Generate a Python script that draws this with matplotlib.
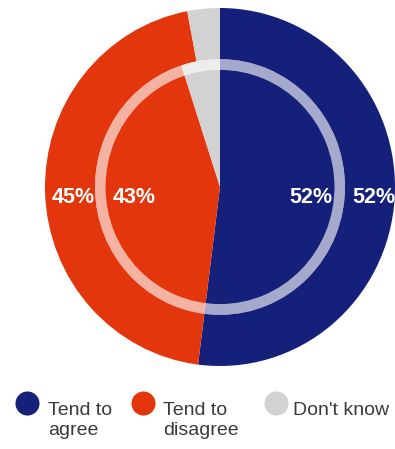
import matplotlib
matplotlib.use("Agg")
import matplotlib.pyplot as plt
from matplotlib.patches import Wedge

categories = ["Tend to\nagree", "Tend to\ndisagree", "Don't know"]
outer_values = [52, 45, 3]
inner_values = [52, 43, 5]
colors = ["#15207a", "#e3360c", "#d2d2d2"]

W, H = 395, 449
fig = plt.figure(figsize=(W / 100, H / 100), dpi=100)
fig.patch.set_facecolor("white")

# pie geometry in pixels
cx, cy, rx, ry = 220, 187, 175, 179
ax = fig.add_axes([(cx - rx) / W, (H - cy - ry) / H, 2 * rx / W, 2 * ry / H])
R_in = 0.714
ax.pie(outer_values, colors=colors, startangle=90, counterclock=False,
       radius=1.0, wedgeprops=dict(width=1.0 - R_in, linewidth=0))
ax.pie(inner_values, colors=colors, startangle=90, counterclock=False,
       radius=R_in, wedgeprops=dict(linewidth=0))
ax.add_patch(Wedge((0, 0), R_in, 0, 360, width=0.06, facecolor="white",
                   alpha=0.62, linewidth=0))
ax.set_aspect("auto")
ax.set_xlim(-1, 1)
ax.set_ylim(-1, 1)
ax.axis("off")

lab_kw = dict(color="white", fontsize=15.5, fontweight="bold", ha="center",
              va="center", family="Liberation Sans")
ly = -0.06
ax.text(0.88, ly, f"{outer_values[0]}%", **lab_kw)
ax.text(0.52, ly, f"{inner_values[0]}%", **lab_kw)
ax.text(-0.84, ly, f"{outer_values[1]}%", **lab_kw)
ax.text(-0.49, ly, f"{inner_values[1]}%", **lab_kw)

# legend overlay
lg = fig.add_axes([0, 0, 1, 1])
lg.set_xlim(0, W)
lg.set_ylim(H, 0)
lg.axis("off")
lg.patch.set_alpha(0)
marker_x = [27, 143, 276]
text_x = [48, 163, 293]
for i, cat in enumerate(categories):
    lg.scatter([marker_x[i]], [403], s=300, color=colors[i], linewidths=0)
    for j, line in enumerate(cat.split("\n")):
        lg.text(text_x[i], 415 + 20 * j, line, fontsize=14, color="#3a3a3a",
                ha="left", va="baseline", family="Liberation Sans")

fig.savefig("out.png", dpi=100)
